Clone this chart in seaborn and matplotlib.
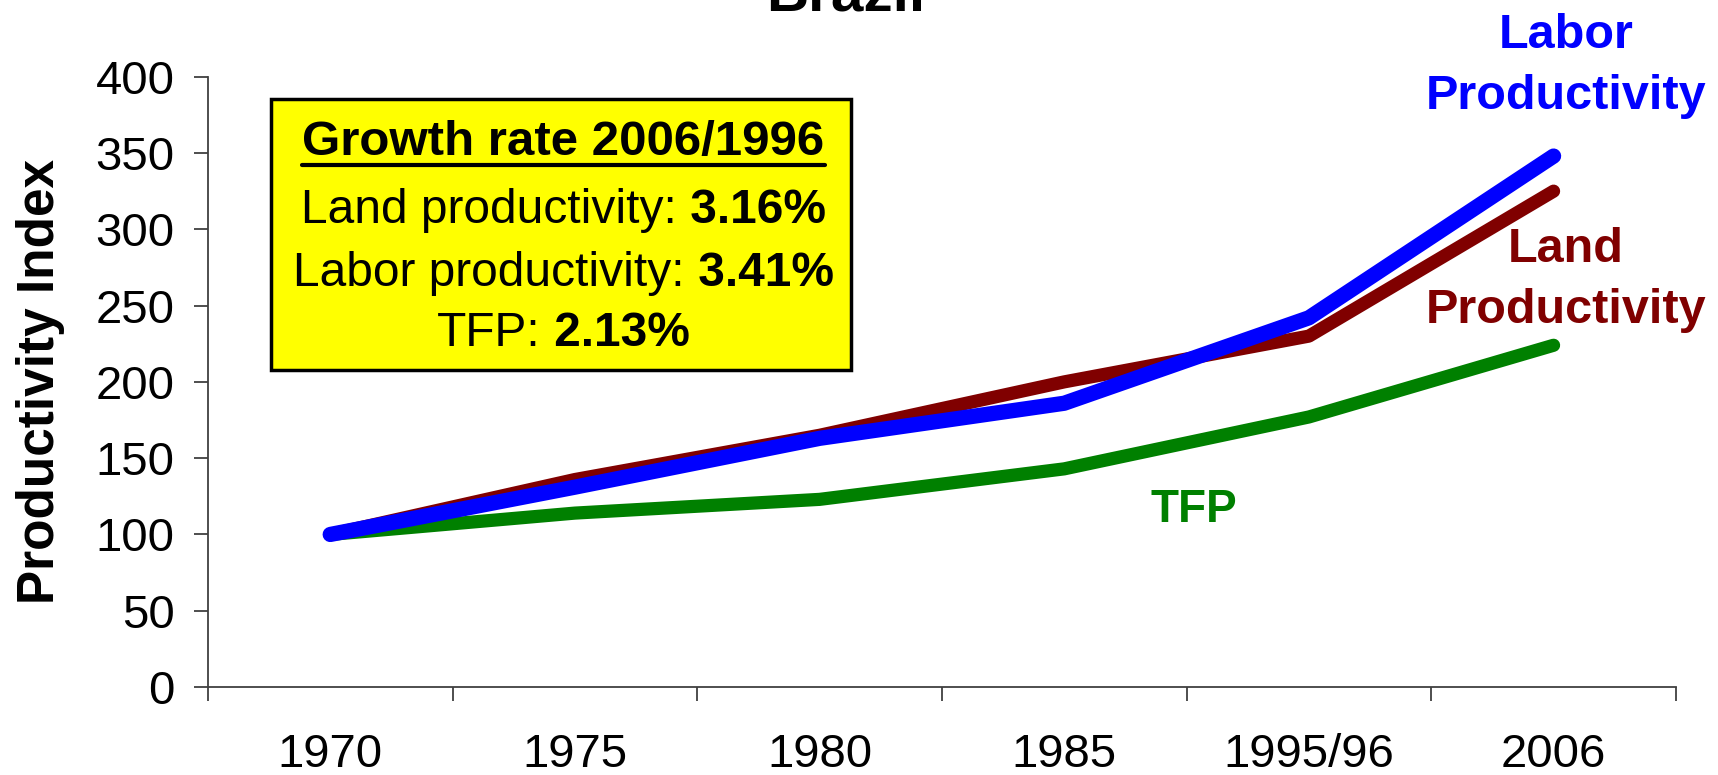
import matplotlib
matplotlib.use("Agg")
import matplotlib.pyplot as plt
from matplotlib.lines import Line2D
from matplotlib.patches import Rectangle
from matplotlib.ticker import FixedLocator
import pandas as pd
import seaborn as sns

# data
years = ["1970", "1975", "1980", "1985", "1995/96", "2006"]
land = [100, 136, 165, 200, 230, 325]
labor = [100, 131, 163, 186, 242, 348]
tfp = [100, 114, 123, 143, 177, 224]
y_ticks = [0, 50, 100, 150, 200, 250, 300, 350, 400]

growth_title = "Growth rate 2006/1996"
growth_rows = [("Land productivity:", " 3.16%"),
               ("Labor productivity:", " 3.41%"),
               ("TFP:", " 2.13%")]

df = pd.DataFrame({"year": years, "land": land, "labor": labor, "tfp": tfp})

sns.set_style("white")
plt.rcParams["font.family"] = ["Liberation Sans", "DejaVu Sans"]
plt.rcParams["text.color"] = "black"
plt.rcParams["axes.labelcolor"] = "black"
plt.rcParams["xtick.color"] = "black"
plt.rcParams["ytick.color"] = "black"

fig = plt.figure(figsize=(17.18, 7.75), dpi=100)
ax = fig.add_axes([0.121, 0.1135, 0.8545, 0.7875])

# draw order: green, brown, blue on top
sns.lineplot(data=df, x="year", y="tfp", color="#008000", linewidth=9.5,
             sort=False, ax=ax, solid_capstyle="round", solid_joinstyle="round")
sns.lineplot(data=df, x="year", y="land", color="#800000", linewidth=9.5,
             sort=False, ax=ax, solid_capstyle="round", solid_joinstyle="round")
sns.lineplot(data=df, x="year", y="labor", color="#0000FF", linewidth=11,
             sort=False, ax=ax, solid_capstyle="round", solid_joinstyle="round")

ax.set_xlim(-0.5, len(years) - 0.5)
ax.set_ylim(0, 400)
ax.set_yticks(y_ticks)
ax.set_xticks(range(len(years)))
ax.set_xticklabels(years)
ax.xaxis.set_minor_locator(FixedLocator([i - 0.5 for i in range(len(years) + 1)]))

for s in ["top", "right"]:
    ax.spines[s].set_visible(False)
for s in ["left", "bottom"]:
    ax.spines[s].set_color("#404040")
    ax.spines[s].set_linewidth(1.3)

ax.tick_params(axis="y", which="major", direction="out", length=10, width=1.3,
               color="#404040", labelsize=34, pad=14, left=True)
ax.tick_params(axis="x", which="major", length=0, labelsize=34, pad=33)
ax.tick_params(axis="x", which="minor", direction="out", length=10, width=1.3,
               color="#404040", bottom=True)

ax.set_xlabel("")
ax.set_ylabel("Productivity Index", fontsize=37, fontweight="bold", labelpad=22)

# series labels
ax.text(5.05, 407, "Labor\nProductivity", color="#0000FF", fontsize=35,
        fontweight="bold", ha="center", va="center", linespacing=1.45, clip_on=False)
ax.text(5.05, 267, "Land\nProductivity", color="#800000", fontsize=35,
        fontweight="bold", ha="center", va="center", linespacing=1.45, clip_on=False)
ax.text(3.53, 116, "TFP", color="#008000", fontsize=33, fontweight="bold",
        ha="center", va="center")

# title, cut off at the top like the original
fig.text(0.492, 0.987, "Brazil", fontsize=42, fontweight="bold",
         ha="center", va="baseline")

# yellow growth-rate box
fig.patches.append(Rectangle((0.158, 0.5226), 0.3376, 0.3497,
                             transform=fig.transFigure, facecolor="#FFFF00",
                             edgecolor="black", linewidth=2.5, zorder=5))

fig.canvas.draw()
renderer = fig.canvas.get_renderer()
W = fig.bbox.width
xc = 0.328 * W

ttl = fig.text(0.328, 0.816, growth_title, fontsize=35.5, fontweight="bold",
               ha="center", va="center", zorder=6)
bb = ttl.get_window_extent(renderer)
fig.lines.append(Line2D([bb.x0 / W, bb.x1 / W], [0.787, 0.787],
                        transform=fig.transFigure, color="black",
                        linewidth=3, zorder=6))

row_y = [0.728, 0.647, 0.570]
for (plain, bold), yy in zip(growth_rows, row_y):
    t1 = fig.text(0, yy, plain, fontsize=34.5, ha="left", va="center", zorder=6)
    t2 = fig.text(0, yy, bold, fontsize=34.5, fontweight="bold", ha="left",
                  va="center", zorder=6)
    w1 = t1.get_window_extent(renderer).width
    w2 = t2.get_window_extent(renderer).width
    x0 = xc - (w1 + w2) / 2
    t1.set_x(x0 / W)
    t2.set_x((x0 + w1) / W)

fig.savefig("out.png", dpi=100)
